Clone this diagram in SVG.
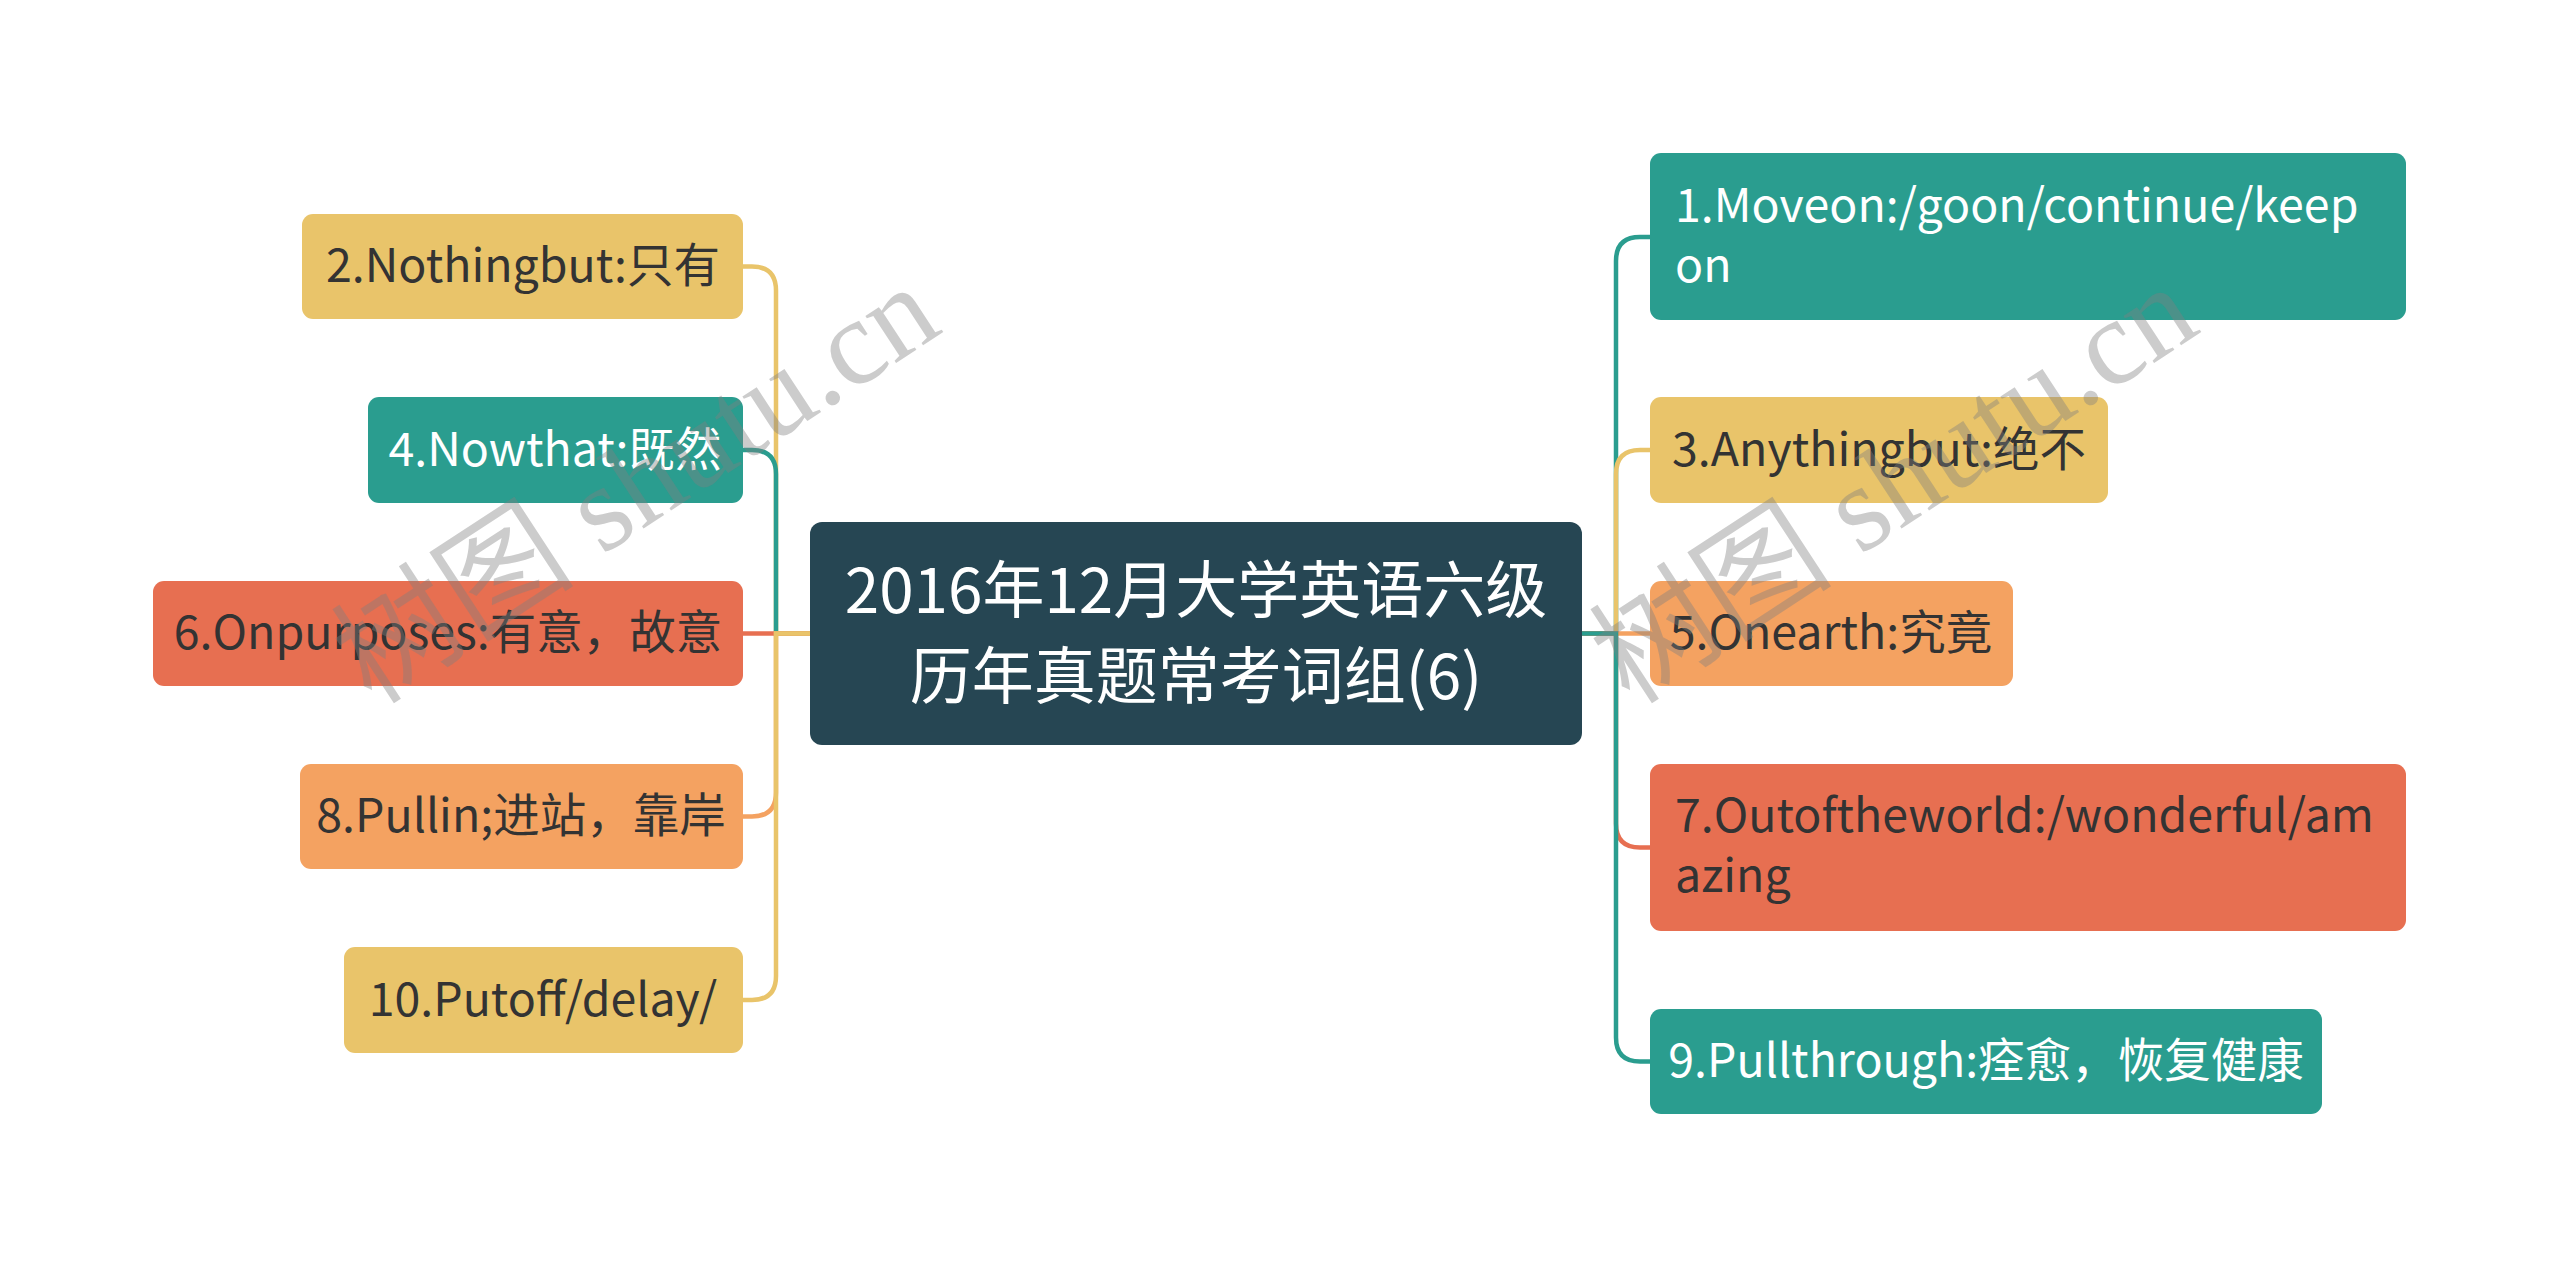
<svg xmlns="http://www.w3.org/2000/svg" width="2560" height="1267" viewBox="0 0 2560 1267">
<style>
.t{font-family:"Noto Sans CJK SC","Liberation Sans",sans-serif;font-size:46.5px}
.c{font-family:"Noto Sans CJK SC","Liberation Sans",sans-serif;font-size:62px;fill:#ffffff;text-anchor:middle}
.m{text-anchor:middle}
.dk{fill:#333333}
.wh{fill:#ffffff}
.teal{fill:#2a9d8f}
.yel{fill:#e9c46a}
.org{fill:#f4a261}
.red{fill:#e76f51}
.ln{fill:none;stroke-width:4.5}
.lt{stroke:#2a9d8f}
.ly{stroke:#e9c46a}
.lo{stroke:#f4a261}
.lr{stroke:#e76f51}
.wm{font-family:"Liberation Serif","Noto Sans CJK SC",serif;font-size:122px;fill:#808080;fill-opacity:0.4}
</style>
<rect width="2560" height="1267" fill="#ffffff"/>
<g id="connectors">
<path class="ln ly" d="M810,633.5 H776 V290.5 Q776,266.5 752,266.5 H743"/>
<path class="ln lt" d="M810,633.5 H776 V474 Q776,450 752,450 H743"/>
<path class="ln lr" d="M810,633.5 H743"/>
<path class="ln lo" d="M810,633.5 H776 V792.5 Q776,816.5 752,816.5 H743"/>
<path class="ln ly" d="M810,633.5 H776 V976 Q776,1000 752,1000 H743"/>
<path class="ln lt" d="M1582,633.5 H1616 V261 Q1616,237 1640,237 H1650"/>
<path class="ln ly" d="M1582,633.5 H1616 V474 Q1616,450 1640,450 H1650"/>
<path class="ln lo" d="M1582,633.5 H1650"/>
<path class="ln lr" d="M1582,633.5 H1616 V823.5 Q1616,847.5 1640,847.5 H1650"/>
<path class="ln lt" d="M1582,633.5 H1616 V1037.5 Q1616,1061.5 1640,1061.5 H1650"/>
</g>
<g id="center">
<rect x="810" y="522" width="772" height="223" rx="12" fill="#264653"/>
<text class="c" x="1196" y="613">2016年12月大学英语六级<tspan x="1196" dy="86">历年真题常考词组(6)</tspan></text>
</g>
<g id="n1">
<rect class="teal" x="1650" y="153" width="756" height="167" rx="11"/>
<text class="t wh" x="1675" y="222">1.Moveon:/goon/continue/keep<tspan x="1675" dy="60">on</tspan></text>
</g>
<g id="n2">
<rect class="yel" x="302" y="214" width="441" height="105" rx="11"/>
<text class="t dk m" x="523" y="282">2.Nothingbut:只有</text>
</g>
<g id="n3">
<rect class="yel" x="1650" y="397" width="458" height="106" rx="11"/>
<text class="t dk m" x="1879" y="466">3.Anythingbut:绝不</text>
</g>
<g id="n4">
<rect class="teal" x="368" y="397" width="375" height="106" rx="11"/>
<text class="t wh m" x="555" y="466">4.Nowthat:既然</text>
</g>
<g id="n5">
<rect class="org" x="1650" y="581" width="363" height="105" rx="11"/>
<text class="t dk m" x="1831" y="649">5.Onearth:究竟</text>
</g>
<g id="n6">
<rect class="red" x="153" y="581" width="590" height="105" rx="11"/>
<text class="t dk m" x="448" y="649">6.Onpurposes:有意，故意</text>
</g>
<g id="n7">
<rect class="red" x="1650" y="764" width="756" height="167" rx="11"/>
<text class="t dk" x="1675" y="832">7.Outoftheworld:/wonderful/am<tspan x="1675" dy="60">azing</tspan></text>
</g>
<g id="n8">
<rect class="org" x="300" y="764" width="443" height="105" rx="11"/>
<text class="t dk m" x="521" y="832">8.Pullin;进站，靠岸</text>
</g>
<g id="n9">
<rect class="teal" x="1650" y="1009" width="672" height="105" rx="11"/>
<text class="t wh m" x="1986" y="1077">9.Pullthrough:痊愈，恢复健康</text>
</g>
<g id="n10">
<rect class="yel" x="344" y="947" width="399" height="106" rx="11"/>
<text class="t dk m" x="543" y="1016">10.Putoff/delay/</text>
</g>
<g id="watermark">
<text class="wm" transform="translate(372,706) rotate(-33.2)">树图 shutu.cn</text>
<text class="wm" transform="translate(1630,706) rotate(-33.2)">树图 shutu.cn</text>
</g>
</svg>
